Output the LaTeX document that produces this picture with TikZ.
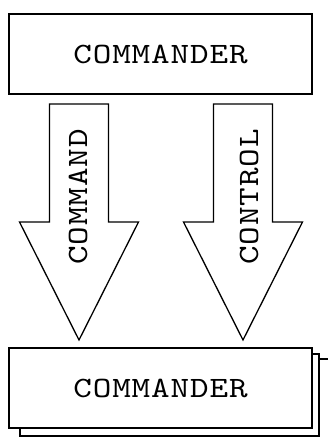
\documentclass[tikz,border=0pt]{standalone}
\usepackage{fontspec}
\usetikzlibrary{positioning}

\newfontfamily\unitfamily{lmmono10-regular.otf}[FakeStretch=1.2, LetterSpace=3]
\newcommand{\unitfont}{\unitfamily\fontsize{29.5}{29.5}\selectfont}

\tikzset{
  unitbox/.style={draw, fill=white, minimum width=303pt, minimum height=80pt,
    inner sep=0pt, font=\unitfont},
  flowlabel/.style={rotate=90, inner sep=0pt, font=\unitfont}
}

\begin{document}
\begin{tikzpicture}[x=1pt, y=-1pt, line width=1.3pt, line join=miter]
    \clip (0,0) rectangle (328,437);
    % top unit
    \node[unitbox] (cmdtop) at (160.5,54) {COMMANDER};
    % block arrows
    \foreach \cx/\lbl/\dx in {79/COMMAND/-1, 243/CONTROL/6} {
        \draw (\cx-29.5,104) -- (\cx+29.5,104) -- (\cx+29.5,222) -- (\cx+59.5,222)
            -- (\cx,340) -- (\cx-59.5,222) -- (\cx-29.5,222) -- cycle;
        \node[flowlabel] (lbl\lbl) at (\cx+\dx,197) {\lbl};
    }
    % stacked bottom units
    \draw[fill=white] (32,359) rectangle (345,450);
    \draw[fill=white] (20,354) rectangle (319,436);
    \node[unitbox] (cmdbot) at (160.5,388) {COMMANDER};
\end{tikzpicture}
\end{document}
